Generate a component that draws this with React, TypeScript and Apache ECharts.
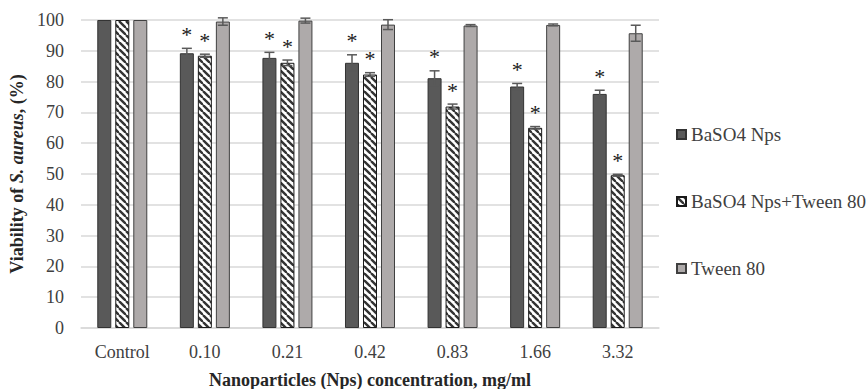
import React, { useEffect, useRef } from "react";
import * as echarts from "echarts";

const categories = ["Control", "0.10", "0.21", "0.42", "0.83", "1.66", "3.32"];
const seriesNames = ["BaSO4 Nps", "BaSO4 Nps+Tween 80", "Tween 80"];
const baso4 = [100, 89.2, 87.7, 86.1, 81.1, 78.4, 76.0];
const baso4Err = [0, 1.6, 1.8, 2.6, 2.4, 1.0, 1.2];
const baso4Sig = [0, 1, 1, 1, 1, 1, 1];
const baso4Tween = [100, 88.4, 86.1, 82.3, 71.9, 65.0, 49.6];
const baso4TweenErr = [0, 0.5, 0.9, 0.6, 0.8, 0.4, 0.3];
const baso4TweenSig = [0, 1, 1, 1, 1, 1, 1];
const tween = [100, 99.5, 99.8, 98.5, 98.2, 98.4, 95.7];
const tweenErr = [0, 1.2, 0.8, 1.6, 0.3, 0.3, 2.6];
const tweenSig = [0, 0, 0, 0, 0, 0, 0];
const yTicks = [0, 10, 20, 30, 40, 50, 60, 70, 80, 90, 100];

const FONT = "Liberation Serif";
const BAR_W = 14;
const BAR_GAP = 4;

function makeHatch(): HTMLCanvasElement {
  const s = 7;
  const c = document.createElement("canvas");
  c.width = s;
  c.height = s;
  const ctx = c.getContext("2d")!;
  ctx.fillStyle = "#ffffff";
  ctx.fillRect(0, 0, s, s);
  ctx.strokeStyle = "#333333";
  ctx.lineWidth = 2.4;
  for (const x0 of [-s, 0, s]) {
    ctx.beginPath();
    ctx.moveTo(x0, 0);
    ctx.lineTo(x0 + s, s);
    ctx.stroke();
  }
  return c;
}

export default function App() {
  const ref = useRef<HTMLDivElement>(null);
  useEffect(() => {
    if (!ref.current) return;
    const chart = echarts.init(ref.current, undefined, { renderer: "svg" });
    const hatch = { image: makeHatch(), repeat: "repeat" } as any;

    const errSeries = (vals: number[], errs: number[], sig: number[], idx: number) => ({
      type: "custom",
      z: 5,
      silent: true,
      data: vals.map((v, i) => [i, v, errs[i], sig[i]]),
      renderItem: (params: any, api: any) => {
        const ci = api.value(0);
        const v = api.value(1);
        const e = api.value(2);
        const s = api.value(3);
        const off = (idx - 1) * (BAR_W + BAR_GAP);
        const top = api.coord([ci, v + e]);
        const bot = api.coord([ci, v - e]);
        const x = top[0] + off;
        const children: any[] = [];
        if (e > 0) {
          const ls = { stroke: "#595959", lineWidth: 1.5 };
          children.push(
            { type: "line", shape: { x1: x, y1: top[1], x2: x, y2: bot[1] }, style: ls },
            { type: "line", shape: { x1: x - 5, y1: top[1], x2: x + 5, y2: top[1] }, style: ls },
            { type: "line", shape: { x1: x - 5, y1: bot[1], x2: x + 5, y2: bot[1] }, style: ls }
          );
        }
        if (s) {
          children.push({
            type: "text",
            x,
            y: top[1] - 3,
            style: {
              text: "*",
              fontFamily: FONT,
              fontSize: 22,
              fill: "#1a1a1a",
              align: "center",
              verticalAlign: "bottom",
            },
          });
        }
        return { type: "group", children };
      },
    });

    chart.setOption({
      animation: false,
      textStyle: { fontFamily: FONT },
      grid: { left: 81, right: 207, top: 20, bottom: 61, outerBoundsMode: "none", containLabel: false },
      legend: {
        orient: "vertical",
        left: 671,
        top: 120,
        itemWidth: 9,
        itemHeight: 9,
        itemGap: 48,
        icon: "rect",
        data: seriesNames,
        textStyle: { fontFamily: FONT, fontSize: 19, color: "#404040" },
      },
      xAxis: {
        type: "category",
        data: categories,
        axisTick: { show: false },
        axisLine: { lineStyle: { color: "#d9d9d9", width: 1.5 } },
        axisLabel: { fontFamily: FONT, fontSize: 18, color: "#404040", margin: 15 },
        name: "Nanoparticles (Nps) concentration, mg/ml",
        nameLocation: "middle",
        nameGap: 43,
        nameTextStyle: { fontFamily: FONT, fontSize: 18, fontWeight: "bold", color: "#262626" },
      },
      yAxis: {
        type: "value",
        min: 0,
        max: 100,
        interval: 10,
        axisLine: { show: false },
        axisTick: { show: false },
        splitLine: { lineStyle: { color: "#d9d9d9", width: 1.5 } },
        axisLabel: {
          fontFamily: FONT,
          fontSize: 18,
          color: "#404040",
          margin: 17,
          formatter: (v: number) => (yTicks.includes(v) ? String(v) : ""),
        },
        name: "{b|Viability of }{i|S. aureus}{b|, (%)}",
        nameLocation: "middle",
        nameGap: 54,
        nameTextStyle: {
          fontFamily: FONT,
          rich: {
            b: { fontFamily: FONT, fontSize: 18, fontWeight: "bold", color: "#262626" },
            i: { fontFamily: FONT, fontSize: 18, fontWeight: "bold", fontStyle: "italic", color: "#262626" },
          },
        },
      },
      series: [
        {
          name: seriesNames[0],
          type: "bar",
          data: baso4,
          barWidth: BAR_W,
          barGap: "28.6%",
          itemStyle: { color: "#595959", borderColor: "#333333", borderWidth: 1 },
        },
        {
          name: seriesNames[1],
          type: "bar",
          data: baso4Tween,
          barWidth: BAR_W,
          barGap: "28.6%",
          itemStyle: { color: hatch, borderColor: "#1a1a1a", borderWidth: 1 },
        },
        {
          name: seriesNames[2],
          type: "bar",
          data: tween,
          barWidth: BAR_W,
          barGap: "28.6%",
          itemStyle: { color: "#aeaaaa", borderColor: "#404040", borderWidth: 1 },
        },
        errSeries(baso4, baso4Err, baso4Sig, 0),
        errSeries(baso4Tween, baso4TweenErr, baso4TweenSig, 1),
        errSeries(tween, tweenErr, tweenSig, 2),
      ],
    });
    return () => chart.dispose();
  }, []);
  return <div ref={ref} style={{ width: 866, height: 389, position: "absolute", left: 0, top: 0 }} />;
}
